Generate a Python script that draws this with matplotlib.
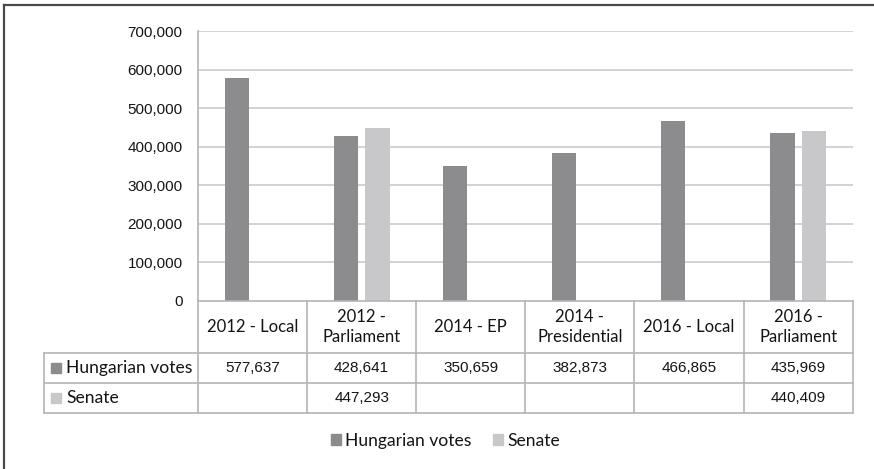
import matplotlib.pyplot as plt
import matplotlib.transforms as mtransforms
from matplotlib.patches import Patch, Rectangle
from matplotlib.lines import Line2D
import numpy as np

# election turnout data
elections = ["2012 - Local", "2012 -\nParliament", "2014 - EP", "2014 -\nPresidential",
             "2016 - Local", "2016 -\nParliament"]
hungarian_votes = [577637, 428641, 350659, 382873, 466865, 435969]
senate_votes = [None, 447293, None, None, None, 440409]
series_names = ["Hungarian votes", "Senate"]
y_ticks = [0, 100000, 200000, 300000, 400000, 500000, 600000, 700000]

dark = "#8c8c8f"
light = "#c8c8ca"
grid_col = "#cfcfcf"
table_col = "#b4b4b4"
txt_col = "#141414"

W, H = 874, 469
fig = plt.figure(figsize=(W / 100, H / 100), dpi=100)

# plot area in pixel units
left, right, top, bottom = 198, 852.7, 31, 301
ax = fig.add_axes([left / W, 1 - bottom / H, (right - left) / W, (bottom - top) / H])

x = np.arange(len(elections))
bw = 0.223
off = 0.144
ax.bar(x - off, hungarian_votes, width=bw, color=dark, zorder=3)
sx = [i for i, v in enumerate(senate_votes) if v is not None]
sv = [v for v in senate_votes if v is not None]
ax.bar(np.array(sx) + off, sv, width=bw, color=light, zorder=3)

ax.set_xlim(-0.5, len(elections) - 0.5)
ax.set_ylim(0, 700000)
ax.set_yticks(y_ticks)
ax.set_yticklabels([f"{t:,}" for t in y_ticks], family="Liberation Sans", fontsize=11, color=txt_col)
ax.tick_params(axis="y", length=0, pad=11)
ax.set_xticks([])
for s in ["top", "right", "bottom"]:
    ax.spines[s].set_visible(False)
ax.spines["left"].set_color(table_col)
ax.spines["left"].set_linewidth(1.2)
for t in y_ticks[1:]:
    ax.axhline(t, color=grid_col, lw=1.3, zorder=1)

# data table under the bars: x in data units, y in axes fraction
tr = mtransforms.blended_transform_factory(ax.transData, ax.transAxes)
ph = bottom - top
cw = (right - left) / len(elections)
y_head = -(353.3 - bottom) / ph
y_row1 = -(383.3 - bottom) / ph
y_row2 = -(413.3 - bottom) / ph
x_lab = -0.5 - (left - 44) / cw
xn = len(elections) - 0.5

def seg(xs, ys):
    ax.add_line(Line2D(xs, ys, transform=tr, color=table_col, lw=1.2, clip_on=False, zorder=4))

seg([-0.5, xn], [0, 0])
seg([x_lab, xn], [y_head, y_head])
seg([x_lab, xn], [y_row1, y_row1])
seg([x_lab, xn], [y_row2, y_row2])
seg([x_lab, x_lab], [y_head, y_row2])
for b in np.arange(-0.5, len(elections)):
    seg([b, b], [0, y_row2])

for i, name in enumerate(elections):
    ax.text(i, y_head / 2, name, transform=tr, ha="center", va="center", family="Lato",
            fontsize=12, color=txt_col, linespacing=1.35)
    ax.text(i, (y_head + y_row1) / 2, f"{hungarian_votes[i]:,}", transform=tr, ha="center",
            va="center", family="Liberation Sans", fontsize=11, color=txt_col)
    if senate_votes[i] is not None:
        ax.text(i, (y_row1 + y_row2) / 2, f"{senate_votes[i]:,}", transform=tr, ha="center",
                va="center", family="Liberation Sans", fontsize=11, color=txt_col)

# row labels with legend keys
sq = 10 / cw
sq_h = 10 / ph
for name, col, yc in [(series_names[0], dark, (y_head + y_row1) / 2),
                      (series_names[1], light, (y_row1 + y_row2) / 2)]:
    x0 = x_lab + 7 / cw
    ax.add_patch(Rectangle((x0, yc - sq_h / 2), sq, sq_h, transform=tr, color=col,
                           clip_on=False, zorder=4))
    ax.text(x0 + sq + 5 / cw, yc, name, transform=tr, ha="left", va="center",
            family="Lato", fontsize=12.6, color=txt_col)

# legend below the table
handles = [Patch(color=dark), Patch(color=light)]
fig.legend(handles, series_names, loc="center", bbox_to_anchor=(445.5 / W, 1 - 440.5 / H),
           ncol=2, frameon=False, handlelength=0.57, handleheight=0.57, handletextpad=0.28,
           columnspacing=1.2, prop={"family": "Lato", "size": 12.6}, labelcolor=txt_col,
           borderpad=0, borderaxespad=0)

# chart frame
fig.add_artist(Line2D([4 / W, 4 / W], [0, 1 - 5 / H], color="#4a4a4a", lw=1.6))
fig.add_artist(Line2D([4 / W, 1], [1 - 5 / H, 1 - 5 / H], color="#4a4a4a", lw=1.6))

fig.savefig("out.png", dpi=100)
